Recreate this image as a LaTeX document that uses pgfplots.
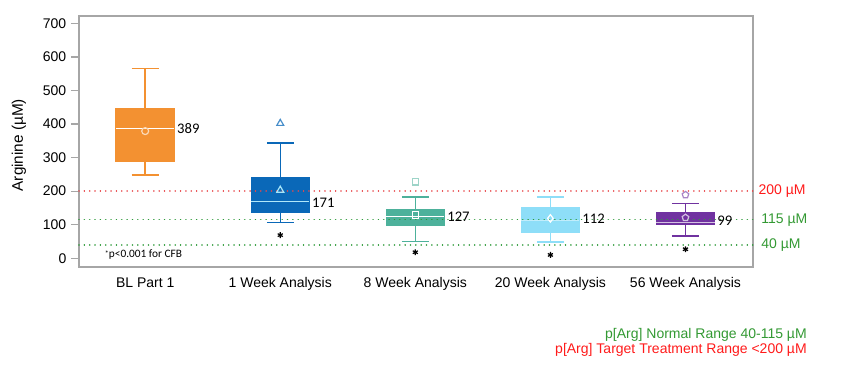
\documentclass[border=0pt]{standalone}
\usepackage{fontspec}
\setmainfont{Liberation Sans}
\newfontfamily\calfont{Carlito}
\usepackage{pgfplots}
\pgfplotsset{compat=1.18}
\definecolor{cOr}{HTML}{F39131}
\definecolor{cBl}{HTML}{0A68B8}
\definecolor{cTe}{HTML}{4DB19B}
\definecolor{cLb}{HTML}{8EDEF8}
\definecolor{cPu}{HTML}{7032A0}
\definecolor{lRed}{HTML}{E8484B}
\definecolor{lGrn}{HTML}{2E9A3A}
\definecolor{tRed}{HTML}{FF1A1A}
\definecolor{tGrn}{HTML}{339933}
\definecolor{frame}{HTML}{A6A6A6}
\pgfplotsset{
  whisk/.style={line width=1.1pt, unbounded coords=jump},
  boxs/.style={fill=#1, draw=#1, line width=1pt},
  refl/.style={#1, line width=1.2pt, line cap=round, dash pattern=on 0.01pt off 4pt},
}
\begin{document}
\begin{tikzpicture}
\useasboundingbox (0,0) rectangle (637.5pt,-285pt);
\begin{axis}[
  at={(59.25pt,-200pt)}, anchor=south west,
  scale only axis, width=505.5pt, height=188pt,
  xmin=-0.49, xmax=4.5, ymin=-25, ymax=722,
  clip=false,
  axis line style={draw=frame, line width=1.5pt},
  xtick={0,1,2,3,4},
  xticklabels={BL Part 1, 1 Week Analysis, 8 Week Analysis, 20 Week Analysis, 56 Week Analysis},
  x tick style={draw=none},
  ytick={0,100,200,300,400,500,600,700},
  y tick style={draw=frame, line width=1pt},
  tick align=outside, major tick length=6pt,
  ytick pos=left,
  /pgf/number format/assume math mode=true,
  tick label style={font=\fontsize{10.5}{12}\selectfont, text=black},
  xticklabel style={yshift=1.5pt},
  ylabel={Arginine (µM)},
  every axis y label/.style={at={(axis description cs:-0.089,0.485)}, rotate=90, anchor=center, font=\fontsize{11.5}{13}\selectfont},
]
% BL Part 1
\addplot[whisk, cOr] coordinates {(0,445) (0,566) (0,nan) (-0.1,566) (0.1,566) (0,nan) (0,290) (0,248) (0,nan) (-0.1,248) (0.1,248)};
\addplot[boxs=cOr] coordinates {(-0.215,290) (0.215,290) (0.215,445) (-0.215,445)} -- cycle;
\addplot[white, line width=1.1pt] coordinates {(-0.215,387) (0.215,387)};
% 1 Week
\addplot[whisk, cBl] coordinates {(1,240) (1,344) (1,nan) (0.9,344) (1.1,344) (1,nan) (1,138) (1,106) (1,nan) (0.9,106) (1.1,106)};
\addplot[boxs=cBl] coordinates {(0.785,138) (1.215,138) (1.215,240) (0.785,240)} -- cycle;
\addplot[cLb!70!white, line width=1.1pt] coordinates {(0.785,170) (1.215,170)};
% red reference line
\addplot[refl=lRed] coordinates {(-0.49,200) (4.5,200)};
% 8 Week
\addplot[whisk, cTe] coordinates {(2,144) (2,183) (2,nan) (1.9,183) (2.1,183) (2,nan) (2,99) (2,50) (2,nan) (1.9,50) (2.1,50)};
\addplot[boxs=cTe] coordinates {(1.785,99) (2.215,99) (2.215,144) (1.785,144)} -- cycle;
\addplot[white, line width=1.1pt] coordinates {(1.785,124) (2.215,124)};
% 20 Week
\addplot[whisk, cLb] coordinates {(3,152) (3,183) (3,nan) (2.9,183) (3.1,183) (3,nan) (3,76) (3,48) (3,nan) (2.9,48) (3.1,48)};
\addplot[boxs=cLb] coordinates {(2.785,76) (3.215,76) (3.215,152) (2.785,152)} -- cycle;
\addplot[cLb!55!white, line width=1.1pt] coordinates {(2.785,112) (3.215,112)};
% 56 Week
\addplot[whisk, cPu] coordinates {(4,136) (4,164) (4,nan) (3.9,164) (4.1,164) (4,nan) (4,101) (4,66) (4,nan) (3.9,66) (4.1,66)};
\addplot[boxs=cPu] coordinates {(3.785,101) (4.215,101) (4.215,136) (3.785,136)} -- cycle;
\addplot[cPu!30!white, line width=1.1pt] coordinates {(3.785,106) (4.215,106)};
% green reference lines
\addplot[refl=lGrn] coordinates {(-0.49,115) (4.5,115)};
\addplot[refl=lGrn] coordinates {(-0.49,40) (4.5,40)};
% means
\addplot[only marks, mark=o, mark size=2.6pt, draw=cOr!35!white, line width=0.9pt] coordinates {(0,379)};
\addplot[only marks, mark=triangle, mark size=3pt, draw=cLb!80!white, line width=0.9pt] coordinates {(1,203)};
\addplot[only marks, mark=square, mark size=2.4pt, draw=white, line width=0.9pt] coordinates {(2,129)};
\addplot[only marks, mark=diamond, mark size=2.8pt, draw=white, line width=0.9pt] coordinates {(3,119)};
\addplot[only marks, mark=pentagon, mark size=2.6pt, draw=cPu!30!white, line width=0.9pt] coordinates {(4,121)};
% outliers
\addplot[only marks, mark=triangle, mark size=3pt, draw=cBl!75!white, line width=0.9pt] coordinates {(1,402)};
\addplot[only marks, mark=square, mark size=2.4pt, draw=cTe!55!white, line width=0.9pt] coordinates {(2,228)};
\addplot[only marks, mark=pentagon, mark size=2.6pt, draw=cPu!60!white, line width=0.9pt] coordinates {(4,189)};
% significance stars
\addplot[only marks, mark=asterisk, mark size=2.2pt, draw=black, line width=0.9pt] coordinates {(1,69) (2,18) (3,10) (4,27)};
% value labels
\node[anchor=west, inner sep=1pt, font=\calfont\fontsize{11}{13}\selectfont] at (axis cs:0.225,387) {389};
\node[anchor=west, inner sep=1pt, font=\calfont\fontsize{11}{13}\selectfont] at (axis cs:1.225,164) {171};
\node[anchor=west, inner sep=1pt, font=\calfont\fontsize{11}{13}\selectfont] at (axis cs:2.225,124) {127};
\node[anchor=west, inner sep=1pt, font=\calfont\fontsize{11}{13}\selectfont] at (axis cs:3.225,117) {112};
\node[anchor=west, inner sep=1pt, font=\calfont\fontsize{11}{13}\selectfont] at (axis cs:4.225,112) {99};
\node[anchor=west, inner sep=0pt, font=\calfont\fontsize{8.5}{10}\selectfont] at (axis cs:-0.3,10) {\raisebox{0.35ex}{\fontsize{6}{7}\selectfont*}p<0.001 for CFB};
% right labels
\node[anchor=west, inner sep=0pt, text=tRed, font=\fontsize{10.5}{12}\selectfont] at (axis cs:4.54,200) {200 µM};
\node[anchor=west, inner sep=0pt, text=tGrn, font=\fontsize{10.5}{12}\selectfont] at (axis cs:4.56,115) {115 µM};
\node[anchor=west, inner sep=0pt, text=tGrn, font=\fontsize{10.5}{12}\selectfont] at (axis cs:4.56,40) {40 µM};
\end{axis}
\node[anchor=east, inner sep=0pt, text=tGrn, font=\fontsize{10.5}{12}\selectfont] at (605.25pt,-251pt) {p[Arg] Normal Range 40-115 µM};
\node[anchor=east, inner sep=0pt, text=tRed, font=\fontsize{10.5}{12}\selectfont] at (605.25pt,-262.5pt) {p[Arg] Target Treatment Range <200 µM};
\end{tikzpicture}
\end{document}
